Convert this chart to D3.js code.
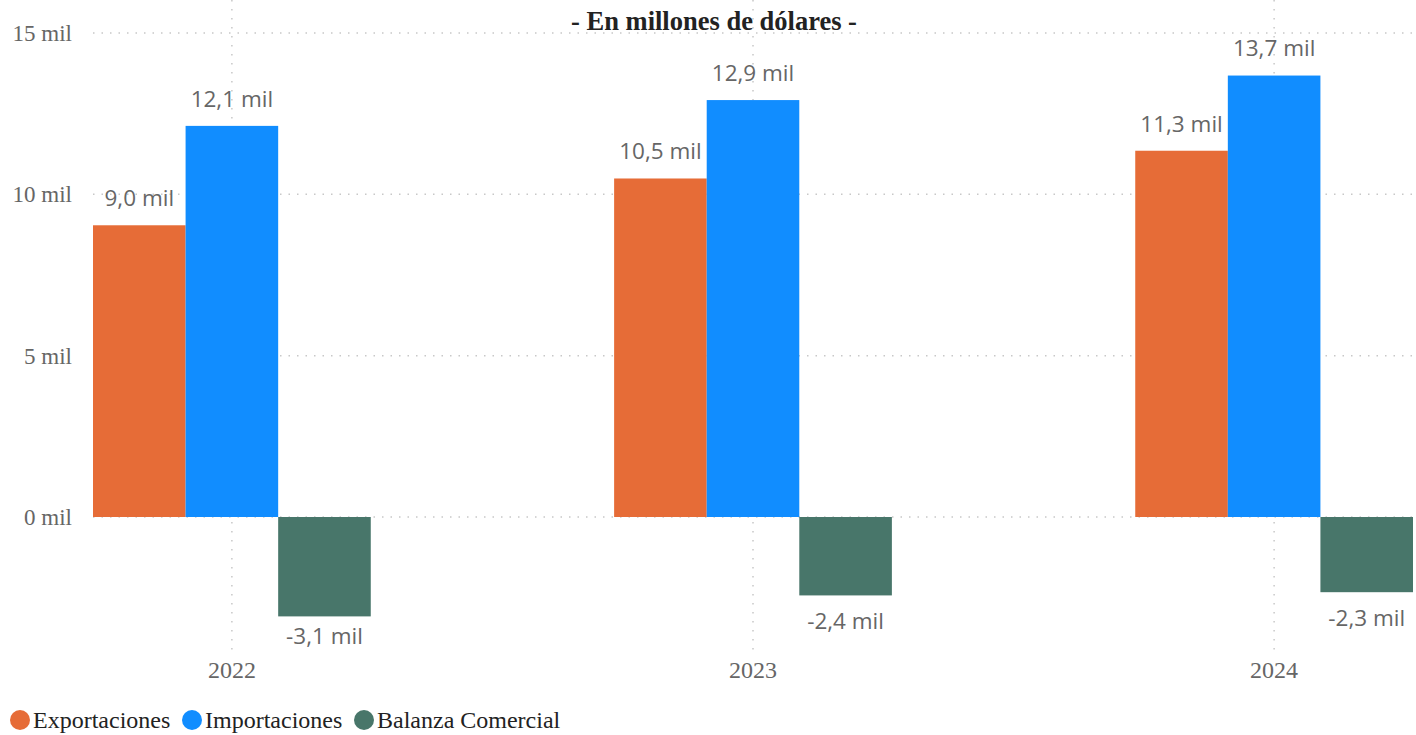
<!DOCTYPE html>
<html>
<head>
<meta charset="utf-8">
<script src="https://cdn.jsdelivr.net/npm/d3@7"></script>
<style>
  body { margin: 0; background: #fff; }
  svg { display: block; }
</style>
</head>
<body>
<svg id="chart" width="1416" height="735"></svg>
<script>
const years = ["2022", "2023", "2024"];
const seriesNames = ["Exportaciones", "Importaciones", "Balanza Comercial"];
const exportaciones = [9.04, 10.49, 11.35];
const importaciones = [12.12, 12.92, 13.68];
const balanza = [-3.08, -2.43, -2.33];
const yTicks = [0, 5, 10, 15];
const colors = ["#E66C37", "#118DFF", "#48766A"];

const width = 1416, height = 735;
const margin = {top: 33, left: 93, right: 3, bottom: 85};
const serif = "'Liberation Serif', 'Times New Roman', serif";

const svg = d3.select("#chart");

var x = d3.scaleBand()
  .domain(years)
  .range([margin.left, width - margin.right])
  .paddingInner(0.467)
  .paddingOuter(0);

var x1 = d3.scaleBand()
  .domain(seriesNames)
  .range([0, x.bandwidth()]);

var y = d3.scaleLinear()
  .domain([-5, 15])
  .range([517 + 5 * 32.27, 517 - 15 * 32.27]);

// dotted gridlines
svg.append("g")
  .selectAll("line")
  .data(yTicks)
  .enter().append("line")
  .attr("x1", margin.left)
  .attr("x2", width)
  .attr("y1", d => y(d))
  .attr("y2", d => y(d))
  .attr("stroke", "#c8c8c8")
  .attr("stroke-width", 1.5)
  .attr("stroke-dasharray", "1.5,7");

svg.append("g")
  .selectAll("line")
  .data(years)
  .enter().append("line")
  .attr("x1", d => x(d) + x.bandwidth() / 2)
  .attr("x2", d => x(d) + x.bandwidth() / 2)
  .attr("y1", 0)
  .attr("y2", 652)
  .attr("stroke", "#c8c8c8")
  .attr("stroke-width", 1.5)
  .attr("stroke-dasharray", "1.5,7.5");

// y axis labels
var yAxis = svg.append("g")
  .attr("transform", "translate(" + 72 + ",0)")
  .call(d3.axisLeft(y).tickValues(yTicks).tickSize(0).tickPadding(0)
    .tickFormat(d => d + " mil"));
yAxis.select(".domain").remove();
yAxis.selectAll("text")
  .attr("font-family", serif)
  .attr("font-size", 23)
  .attr("fill", "#666");

// x axis labels
var xAxis = svg.append("g")
  .attr("transform", "translate(0,670)")
  .call(d3.axisBottom(x).tickSize(0).tickPadding(0));
xAxis.select(".domain").remove();
xAxis.selectAll("text")
  .attr("dy", "0.35em")
  .attr("font-family", serif)
  .attr("font-size", 24)
  .attr("fill", "#666");

// bars
var rows = [];
years.forEach(function (yr, i) {
  rows.push({year: yr, s: 0, v: exportaciones[i]});
  rows.push({year: yr, s: 1, v: importaciones[i]});
  rows.push({year: yr, s: 2, v: balanza[i]});
});

var fmt = d => (d < 0 ? "-" : "") + d3.format(".1f")(Math.abs(d)).replace(".", ",") + " mil";

svg.append("g")
  .selectAll("rect")
  .data(rows)
  .enter().append("rect")
  .attr("x", d => x(d.year) + x1(seriesNames[d.s]))
  .attr("width", x1.bandwidth())
  .attr("y", d => y(Math.max(0, d.v)))
  .attr("height", d => Math.abs(y(d.v) - y(0)))
  .attr("fill", d => colors[d.s]);

// labels: above positive bars, below negative ones (kept clear of the year labels)
svg.append("g")
  .selectAll("text")
  .data(rows)
  .enter().append("text")
  .attr("x", d => x(d.year) + x1(seriesNames[d.s]) + x1.bandwidth() / 2)
  .attr("y", d => d.v >= 0 ? y(d.v) - 27 : Math.min(y(d.v) + 26, 636))
  .attr("dy", "0.35em")
  .attr("text-anchor", "middle")
  .attr("font-family", "'Segoe UI', 'Open Sans', 'Noto Sans', sans-serif")
  .attr("font-size", 22.5)
  .attr("fill", "#666")
  .text(d => fmt(d.v));

// title
svg.append("text")
  .attr("x", 714)
  .attr("y", 30)
  .attr("text-anchor", "middle")
  .attr("font-family", serif)
  .attr("font-weight", "bold")
  .attr("font-size", 26.5)
  .attr("fill", "#222")
  .text("- En millones de dólares -");

// legend
var legendX = [20, 192, 364];
var legend = svg.append("g")
  .selectAll("g")
  .data(seriesNames)
  .enter().append("g")
  .attr("transform", (d, i) => "translate(" + legendX[i] + ",720)");
legend.append("circle")
  .attr("r", 10)
  .attr("fill", (d, i) => colors[i]);
legend.append("text")
  .attr("x", 13)
  .attr("dy", "0.35em")
  .attr("font-family", serif)
  .attr("font-size", 24)
  .attr("fill", "#222")
  .text(d => d);
</script>
</body>
</html>
